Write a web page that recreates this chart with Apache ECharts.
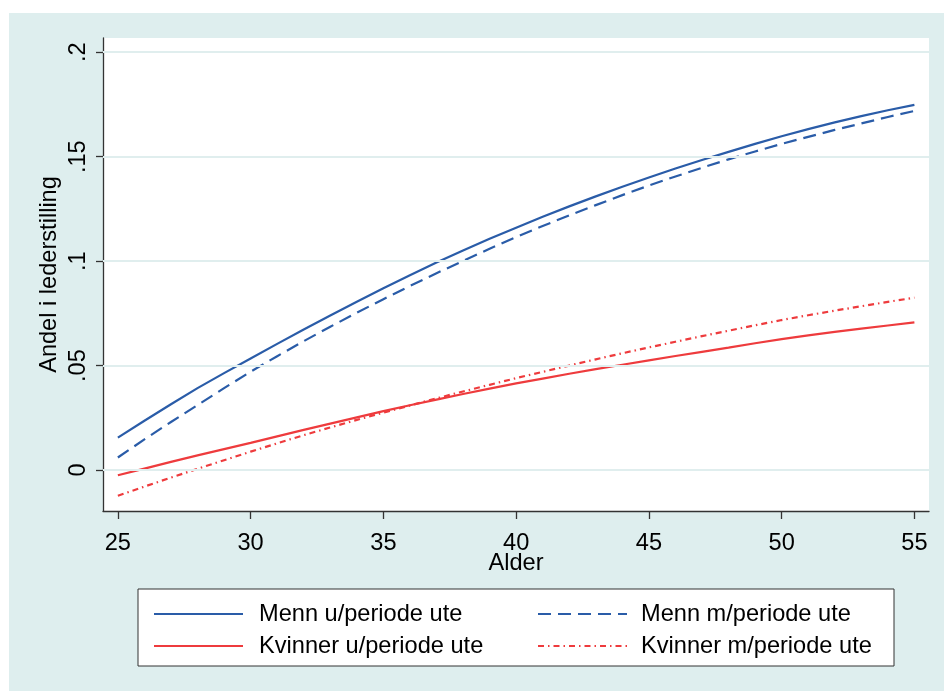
<!DOCTYPE html>
<html>
<head>
<meta charset="utf-8">
<script src="https://cdn.jsdelivr.net/npm/echarts@6/dist/echarts.min.js"></script>
<style>
html,body{margin:0;padding:0;background:#fff;}
#chart{width:944px;height:691px;}
</style>
</head>
<body>
<div id="chart"></div>
<script>
const ages = [25,26,27,28,29,30,31,32,33,34,35,36,37,38,39,40,41,42,43,44,45,46,47,48,49,50,51,52,53,54,55];
const mennU = [0.0155,0.0236,0.0315,0.0392,0.0464,0.0534,0.0604,0.0673,0.0740,0.0806,0.0870,0.0932,0.0993,0.1051,0.1107,0.1160,0.1212,0.1262,0.1310,0.1356,0.1400,0.1443,0.1484,0.1523,0.1561,0.1598,0.1632,0.1664,0.1694,0.1722,0.1748];
const mennM = [0.0060,0.0147,0.0230,0.0311,0.0392,0.0471,0.0545,0.0617,0.0686,0.0753,0.0818,0.0881,0.0942,0.1001,0.1059,0.1115,0.1168,0.1219,0.1268,0.1316,0.1362,0.1405,0.1447,0.1487,0.1525,0.1561,0.1595,0.1628,0.1659,0.1690,0.1719];
const kvinnerU = [-0.0025,0.0007,0.0039,0.0070,0.0100,0.0130,0.0161,0.0192,0.0222,0.0252,0.0282,0.0310,0.0337,0.0364,0.0390,0.0415,0.0438,0.0461,0.0483,0.0504,0.0525,0.0546,0.0566,0.0586,0.0607,0.0627,0.0645,0.0661,0.0677,0.0692,0.0707];
const kvinnerM = [-0.0123,-0.0079,-0.0036,0.0006,0.0047,0.0088,0.0128,0.0167,0.0204,0.0240,0.0275,0.0309,0.0343,0.0376,0.0408,0.0440,0.0470,0.0500,0.0530,0.0559,0.0587,0.0614,0.0641,0.0667,0.0693,0.0718,0.0741,0.0763,0.0784,0.0805,0.0825];
const xTicks = [25,30,35,40,45,50,55];
const yTicks = [0,0.05,0.1,0.15,0.2];
const yTickLabels = ['0','.05','.1','.15','.2'];
const seriesNames = ['Menn u/periode ute','Menn m/periode ute','Kvinner u/periode ute','Kvinner m/periode ute'];

const BLUE = '#2a5ca8';
const RED = '#ee3b3d';
const BG = '#deeeee';
const GRID = '#e0eeee';
const FONT = "'Liberation Sans', Arial, Helvetica, sans-serif";
const FS = 23.6;

function pairs(vals){ return ages.map((a,i)=>[a, vals[i]]); }

const chart = echarts.init(document.getElementById('chart'), null, {renderer:'canvas'});
const lineSeries = (name, vals, color, type) => ({
  name, type:'line', data: pairs(vals), symbol:'none', showSymbol:false, smooth:false, z:3,
  lineStyle:{color, width:2.2, type},
  itemStyle:{color},
  emphasis:{disabled:true}
});

const legendCommon = {
  orient:'vertical', top:597, itemWidth:89, itemHeight:24, itemGap:8, selectedMode:false,
  itemStyle:{opacity:0, borderWidth:0},
};

chart.setOption({
  animation:false,
  backgroundColor:'#ffffff',
  textStyle:{fontFamily:FONT},
  graphic:[
    {type:'rect', z:-10, shape:{x:9,y:13,width:935,height:678}, style:{fill:BG}},
    {type:'rect', z:-5, shape:{x:138,y:589,width:756,height:77}, style:{fill:'#ffffff', stroke:'#333333', lineWidth:1}}
  ],
  grid:{left:103, top:38, right:15, bottom:180, show:true, backgroundColor:'#ffffff', borderWidth:0},
  xAxis:{
    type:'value', min:24.44, max:55.55,
    name:'Alder', nameLocation:'middle', nameGap:40, nameMoveOverlap:false,
    nameTextStyle:{fontSize:FS, color:'#000', fontFamily:FONT},
    axisLine:{show:true, onZero:false, lineStyle:{color:'#333', width:1.3}},
    axisTick:{show:true, length:8, lineStyle:{color:'#333', width:1.3}, customValues:xTicks},
    axisLabel:{fontSize:FS, color:'#000', margin:20, fontFamily:FONT, customValues:xTicks, formatter:(v)=>String(v)},
    splitLine:{show:false}
  },
  yAxis:{
    type:'value', min:-0.0196, max:0.2068,
    name:'Andel i lederstilling', nameLocation:'middle', nameGap:42, nameMoveOverlap:false,
    nameTextStyle:{fontSize:FS, color:'#000', fontFamily:FONT},
    axisLine:{show:true, onZero:false, lineStyle:{color:'#333', width:1.3}},
    axisTick:{show:true, length:7, lineStyle:{color:'#333', width:1.3}, customValues:yTicks},
    axisLabel:{fontSize:FS, color:'#000', rotate:90, margin:13, fontFamily:FONT, customValues:yTicks,
      formatter:(v)=>{ const i = yTicks.findIndex(t=>Math.abs(t-v)<1e-9); return i>=0 ? yTickLabels[i] : ''; }},
    splitLine:{show:false}
  },
  legend:[
    Object.assign({}, legendCommon, {data:[seriesNames[0], seriesNames[2]], left:148,
     textStyle:{fontSize:FS, color:'#000', fontFamily:FONT, lineHeight:24, padding:[0,0,0,11]}}),
    Object.assign({}, legendCommon, {data:[seriesNames[1], seriesNames[3]], left:532,
     textStyle:{fontSize:FS, color:'#000', fontFamily:FONT, lineHeight:24, padding:[0,0,0,9]}})
  ],
  series:[
    {name:'grid', type:'line', data:[], z:1, silent:true,
     markLine:{silent:true, symbol:'none', label:{show:false}, animation:false,
       lineStyle:{color:GRID, width:2, type:'solid'},
       emphasis:{disabled:true},
       data: yTicks.map(v=>({yAxis:v}))}},
    lineSeries(seriesNames[0], mennU, BLUE, 'solid'),
    lineSeries(seriesNames[1], mennM, BLUE, [13,7]),
    lineSeries(seriesNames[2], kvinnerU, RED, 'solid'),
    lineSeries(seriesNames[3], kvinnerM, RED, [6,4,1.5,4])
  ]
});
</script>
</body>
</html>
